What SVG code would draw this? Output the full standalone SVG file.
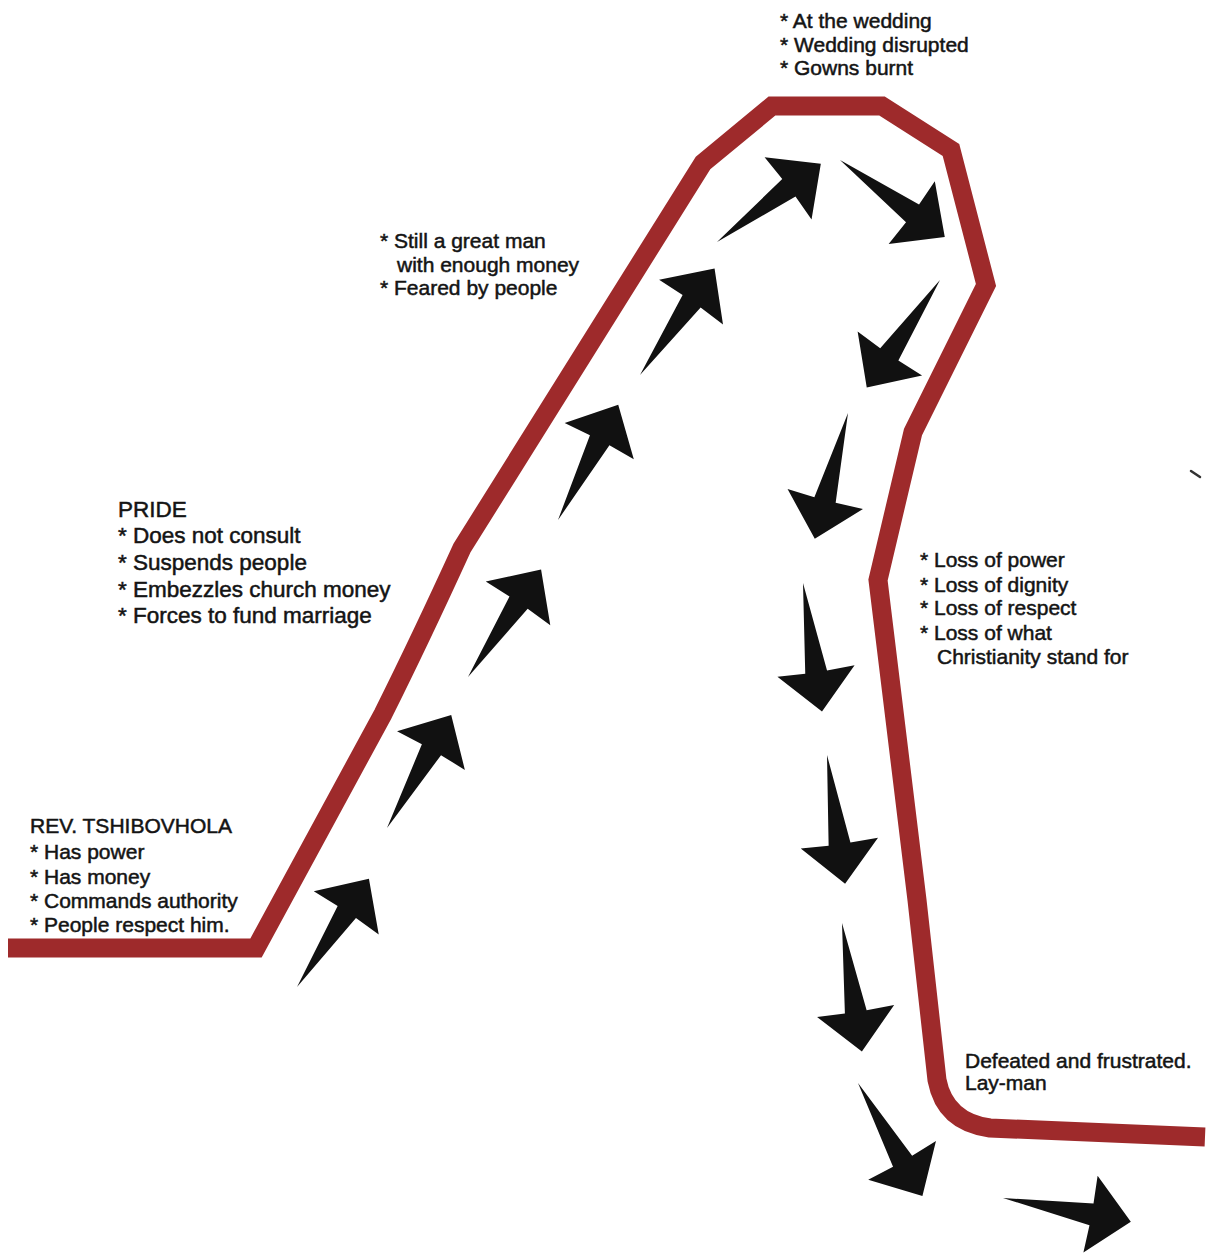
<svg xmlns="http://www.w3.org/2000/svg" xmlns:xlink="http://www.w3.org/1999/xlink" width="1207" height="1253" viewBox="0 0 1207 1253">
<defs>
<style>
.road{fill:none;stroke:#9e2a2b;stroke-width:19;stroke-linejoin:miter;stroke-linecap:butt}
.arrow{fill:#111}
.t{font-family:"Liberation Sans",Arial,sans-serif;font-size:21px;fill:#141414;stroke:#141414;stroke-width:0.5}
.big{font-size:22.5px}
</style>
<path id="arr" d="M0,0 L90,-11 L89,-39 L130,0 L89,39 L90,11 Z"/>
</defs>
<rect width="1207" height="1253" fill="#fff"/>
<g id="road">
<path class="road" d="M8,948 L256,948 L383,714 Q420,640 462,548 L703,163 L772,106 L882,106 L951,150 L986,285 L913,432 L878,580 L917,900 L937,1080 Q945,1122 990,1128 L1205,1137"/>
</g>
<g id="connectors" class="arrow">
<use xlink:href="#arr" transform="translate(297,987) rotate(-56.4)"/>
<use xlink:href="#arr" transform="translate(387,828) rotate(-60.4)"/>
<use xlink:href="#arr" transform="translate(468,677) rotate(-55.8)"/>
<use xlink:href="#arr" transform="translate(558,520) rotate(-62.4)"/>
<use xlink:href="#arr" transform="translate(640,375) rotate(-55)"/>
<use xlink:href="#arr" transform="translate(717,242) rotate(-37)"/>
<use xlink:href="#arr" transform="translate(840,160) rotate(36.3)"/>
<use xlink:href="#arr" transform="translate(940,280) rotate(124.3)"/>
<use xlink:href="#arr" transform="translate(848,413) rotate(104.8)"/>
<use xlink:href="#arr" transform="translate(803,583) rotate(81.6)"/>
<use xlink:href="#arr" transform="translate(827,755) rotate(82)"/>
<use xlink:href="#arr" transform="translate(842,923) rotate(81.2)"/>
<use xlink:href="#arr" transform="translate(858,1083) rotate(60.3)"/>
<use xlink:href="#arr" transform="translate(1003,1198) rotate(10.5)"/>
</g>
<g id="speck">
<path d="M1191,471 L1200,477" stroke="#333" stroke-width="2.5" stroke-linecap="round" fill="none"/>
</g>
<g id="node-wedding" class="t">
<text x="780" y="28">* At the wedding</text>
<text x="780" y="52">* Wedding disrupted</text>
<text x="780" y="75">* Gowns burnt</text>
</g>
<g id="node-still" class="t">
<text x="380" y="248">* Still a great man</text>
<text x="397" y="272">with enough money</text>
<text x="380" y="295">* Feared by people</text>
</g>
<g id="node-pride" class="t big">
<text x="118" y="517">PRIDE</text>
<text x="118" y="543">* Does not consult</text>
<text x="118" y="570">* Suspends people</text>
<text x="118" y="597">* Embezzles church money</text>
<text x="118" y="623">* Forces to fund marriage</text>
</g>
<g id="node-rev" class="t">
<text x="30" y="833">REV. TSHIBOVHOLA</text>
<text x="30" y="859">* Has power</text>
<text x="30" y="884">* Has money</text>
<text x="30" y="908">* Commands authority</text>
<text x="30" y="932">* People respect him.</text>
</g>
<g id="node-loss" class="t">
<text x="920" y="567">* Loss of power</text>
<text x="920" y="592">* Loss of dignity</text>
<text x="920" y="615">* Loss of respect</text>
<text x="920" y="640">* Loss of what</text>
<text x="937" y="664">Christianity stand for</text>
</g>
<g id="node-defeated" class="t">
<text x="965" y="1068">Defeated and frustrated.</text>
<text x="965" y="1090">Lay-man</text>
</g>
</svg>
